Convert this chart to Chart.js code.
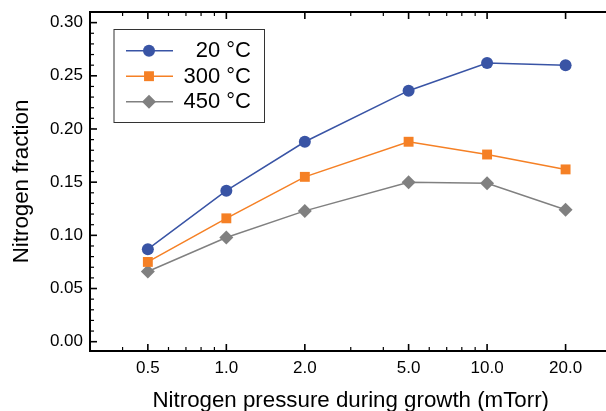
<!DOCTYPE html>
<html><head><meta charset="utf-8">
<script src="https://cdn.jsdelivr.net/npm/chart.js@4/dist/chart.umd.min.js"></script>
<style>html,body{margin:0;padding:0;overflow:hidden;background:#fff}#wrap{width:620px;height:411px;position:relative}</style>
</head><body><div id="wrap"><canvas id="c" width="620" height="411"></canvas></div>
<script>
// ---- data ----
const pressures = [0.5, 1, 2, 5, 10, 20];
const xTickLabels = ['0.5', '1.0', '2.0', '5.0', '10.0', '20.0'];
const xMinorTicks = [0.3, 0.4, 0.6, 0.7, 0.8, 0.9, 3, 4, 6, 7, 8, 9, 30];
const yMajorTicks = [0, 0.05, 0.10, 0.15, 0.20, 0.25, 0.30];
const yTickLabels = ['0.00', '0.05', '0.10', '0.15', '0.20', '0.25', '0.30'];
const yMinorTicks = [0.01, 0.02, 0.03, 0.04, 0.06, 0.07, 0.08, 0.09, 0.11, 0.12, 0.13, 0.14,
  0.16, 0.17, 0.18, 0.19, 0.21, 0.22, 0.23, 0.24, 0.26, 0.27, 0.28, 0.29];
const series20 = [0.087, 0.142, 0.188, 0.236, 0.262, 0.260];
const series300 = [0.075, 0.116, 0.155, 0.188, 0.176, 0.162];
const series450 = [0.066, 0.098, 0.123, 0.150, 0.149, 0.124];
const seriesNames = ['20 °C', '300 °C', '450 °C'];
const xTitle = 'Nitrogen pressure during growth (mTorr)';
const yTitle = 'Nitrogen fraction';

const FONT = '"Liberation Sans", Arial, Helvetica, sans-serif';
Chart.defaults.font.family = FONT;
Chart.defaults.color = '#000';

const colors = ['rgb(57,84,165)', 'rgb(245,128,37)', 'rgb(128,128,128)'];
const styles = ['circle', 'rect', 'rectRot'];
const radii = [6, 7, 7];
const allSeries = [series20, series300, series450];

const datasets = allSeries.map((s, i) => ({
  label: seriesNames[i],
  data: pressures.map((p, j) => ({x: p, y: s[j]})),
  borderColor: colors[i],
  backgroundColor: colors[i],
  borderWidth: 1.5,
  pointStyle: styles[i],
  pointRadius: radii[i],
  pointHoverRadius: radii[i],
  pointBorderWidth: 0,
  pointBackgroundColor: colors[i],
  tension: 0,
  clip: false
}));

function drawMarker(ctx, style, r, x, y) {
  if (Chart.helpers && Chart.helpers.drawPoint) {
    Chart.helpers.drawPoint(ctx, {pointStyle: style, radius: r, rotation: 0, borderWidth: 0}, x, y);
    return;
  }
  ctx.beginPath();
  if (style === 'circle') ctx.arc(x, y, r, 0, Math.PI * 2);
  else if (style === 'rect') { const s = r * Math.SQRT1_2; ctx.rect(x - s, y - s, 2 * s, 2 * s); }
  else { ctx.moveTo(x - r, y); ctx.lineTo(x, y - r); ctx.lineTo(x + r, y); ctx.lineTo(x, y + r); ctx.closePath(); }
  ctx.fill();
}

const framePlugin = {
  id: 'frame',
  beforeDatasetsDraw(chart) {
    const {ctx, chartArea: a, scales} = chart;
    const xs = scales.x, ys = scales.y;
    ctx.save();
    ctx.strokeStyle = '#000';
    ctx.lineCap = 'butt';
    const tick = (x1, y1, x2, y2, w) => { ctx.lineWidth = w; ctx.beginPath(); ctx.moveTo(x1, y1); ctx.lineTo(x2, y2); ctx.stroke(); };
    pressures.forEach(v => { const px = xs.getPixelForValue(v); tick(px, a.bottom, px, a.bottom - 7, 1.6); tick(px, a.top, px, a.top + 7, 1.6); });
    xMinorTicks.forEach(v => { const px = xs.getPixelForValue(v); tick(px, a.bottom, px, a.bottom - 4, 1.2); tick(px, a.top, px, a.top + 4, 1.2); });
    yMajorTicks.forEach(v => { const py = ys.getPixelForValue(v); tick(a.left, py, a.left + 7, py, 1.6); });
    yMinorTicks.forEach(v => { const py = ys.getPixelForValue(v); tick(a.left, py, a.left + 4, py, 1.2); });
    ctx.lineWidth = 2;
    ctx.beginPath();
    ctx.moveTo(a.right + 10, a.top); ctx.lineTo(a.left, a.top); ctx.lineTo(a.left, a.bottom); ctx.lineTo(a.right + 10, a.bottom);
    ctx.stroke();
    ctx.restore();
  }
};

const legendPlugin = {
  id: 'boxLegend',
  afterDatasetsDraw(chart) {
    const {ctx, chartArea: a} = chart;
    const bx = a.left + 23.5, by = a.top + 17, bw = 151.5, bh = 94;
    ctx.save();
    ctx.fillStyle = '#fff';
    ctx.fillRect(bx, by, bw, bh);
    ctx.strokeStyle = '#333';
    ctx.lineWidth = 1;
    ctx.strokeRect(bx + 0.5, by + 0.5, bw - 1, bh - 1);
    seriesNames.forEach((name, i) => {
      const y = by + 21.7 + i * 25.5;
      ctx.strokeStyle = colors[i];
      ctx.lineWidth = 1.5;
      ctx.beginPath(); ctx.moveTo(bx + 12.5, y); ctx.lineTo(bx + 59.5, y); ctx.stroke();
      ctx.fillStyle = colors[i];
      drawMarker(ctx, styles[i], radii[i], bx + 35.5, y);
      ctx.fillStyle = '#000';
      ctx.font = '22px ' + FONT;
      ctx.textAlign = 'right';
      ctx.textBaseline = 'middle';
      ctx.fillText(name, bx + 137.5, y + 0.5);
    });
    ctx.restore();
  }
};

new Chart(document.getElementById('c'), {
  type: 'line',
  data: {datasets},
  options: {
    responsive: false,
    animation: false,
    devicePixelRatio: 1,
    layout: {padding: {left: 0, right: 8.5, top: 12, bottom: 0}},
    plugins: {legend: {display: false}, tooltip: {enabled: false}},
    scales: {
      x: {
        type: 'logarithmic',
        min: 0.3, max: 30,
        grid: {display: false, drawTicks: false},
        border: {display: false},
        afterBuildTicks: s => { s.ticks = pressures.map(v => ({value: v})); },
        afterFit: s => { s.height = 60; s.paddingLeft = 0; s.paddingRight = 0; },
        ticks: {
          autoSkip: false, maxRotation: 0, padding: 7,
          font: {size: 17, family: FONT}, color: '#000',
          callback: (v, i) => xTickLabels[i]
        },
        title: {display: true, text: xTitle, color: '#000', font: {size: 22.3, family: FONT, lineHeight: 0.9}, padding: {top: 0, bottom: 0}}
      },
      y: {
        type: 'linear',
        min: -0.00875, max: 0.31,
        grid: {display: false, drawTicks: false},
        border: {display: false},
        afterBuildTicks: s => { s.ticks = yMajorTicks.map(v => ({value: v})); },
        afterFit: s => { s.width = 90; s.paddingTop = 0; s.paddingBottom = 0; },
        ticks: {
          autoSkip: false, padding: 7,
          font: {size: 17, family: FONT}, color: '#000',
          callback: (v, i) => yTickLabels[i]
        },
        title: {display: true, text: yTitle, color: '#000', font: {size: 22.3, family: FONT, lineHeight: 0.9}, padding: {top: 12.2, bottom: 0}}
      }
    }
  },
  plugins: [framePlugin, legendPlugin]
});
</script>
</body></html>
